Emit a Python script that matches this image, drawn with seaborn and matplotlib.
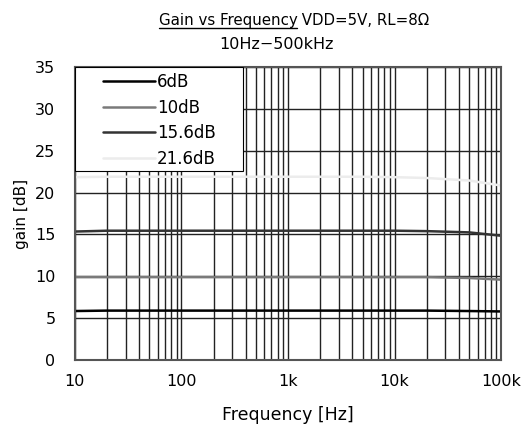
import numpy as np
import pandas as pd
import matplotlib
matplotlib.use("Agg")
import matplotlib.pyplot as plt
import seaborn as sns
from matplotlib.ticker import FixedLocator, NullFormatter
from matplotlib.patches import Rectangle

# data
freq = [10, 20, 50, 100, 200, 500, 1000, 2000, 5000, 10000, 20000, 50000, 100000]
gain_6 = [5.85, 5.9, 5.9, 5.9, 5.9, 5.9, 5.9, 5.9, 5.9, 5.9, 5.9, 5.85, 5.8]
gain_10 = [9.9, 9.9, 9.9, 9.9, 9.9, 9.9, 9.9, 9.9, 9.9, 9.9, 9.9, 9.8, 9.6]
gain_15 = [15.35, 15.45, 15.45, 15.45, 15.45, 15.45, 15.45, 15.45, 15.45, 15.45, 15.4, 15.25, 14.85]
gain_21 = [21.85, 21.9, 21.9, 21.9, 21.9, 21.9, 21.9, 21.9, 21.9, 21.85, 21.75, 21.45, 20.85]
labels = ["6dB", "10dB", "15.6dB", "21.6dB"]
colors = ["#000000", "#7a7a7a", "#333333", "#ececec"]

df = pd.DataFrame({"freq": freq * 4,
                   "gain": gain_6 + gain_10 + gain_15 + gain_21,
                   "setting": sum([[l] * len(freq) for l in labels], [])})

sns.set_style("white")
plt.rcParams["font.family"] = ["DejaVu Sans", "Noto Sans CJK JP"]
plt.rcParams["text.color"] = "black"
plt.rcParams["axes.labelcolor"] = "black"
plt.rcParams["xtick.color"] = "black"
plt.rcParams["ytick.color"] = "black"

fig = plt.figure(figsize=(5.27, 4.25), dpi=100)
ax = fig.add_axes([0.142, 0.153, 0.809, 0.689])

ax.set_xscale("log")
ax.set_xlim(10, 100000)
ax.set_ylim(0, 35)
ax.set_yticks(range(0, 36, 5))
ax.xaxis.set_major_locator(FixedLocator([10, 100, 1000, 10000, 100000]))
ax.xaxis.set_minor_locator(FixedLocator([m * 10 ** e for e in range(1, 5) for m in range(2, 10)]))
ax.xaxis.set_minor_formatter(NullFormatter())
ax.set_xticklabels(["10", "100", "1k", "10k", "100k"])
ax.grid(True, which="both", axis="x", color="#222222", lw=1)
ax.grid(True, which="major", axis="y", color="#222222", lw=1)
ax.tick_params(axis="x", which="both", length=0, labelsize=11.5, pad=10)
ax.tick_params(axis="y", which="both", length=0, labelsize=11.5, pad=14)

sns.lineplot(data=df, x="freq", y="gain", hue="setting", palette=colors,
             hue_order=labels, lw=1.8, ax=ax)

for s in ax.spines.values():
    s.set_color("#555555")
    s.set_linewidth(1.5)

ax.set_xlabel("Frequency [Hz]", fontsize=12.5, labelpad=12)
ax.set_ylabel("gain [dB]", fontsize=11, labelpad=4)

# legend box drawn by hand, legend itself without frame
ax.add_patch(Rectangle((0, 0.645), 0.394, 0.355, transform=ax.transAxes,
                       facecolor="white", edgecolor="black", lw=0.8, zorder=4))
leg = ax.legend(loc="upper left", bbox_to_anchor=(0.066, 0.98), fontsize=12,
                frameon=False, borderaxespad=0, borderpad=0,
                handlelength=3.1, handletextpad=0.15, labelspacing=0.45)
leg.set_zorder(5)

# title with underlined first part
t1 = fig.text(0.3, 0.941, "Gain vs Frequency", ha="left", va="baseline", fontsize=10.8)
t2 = fig.text(0.3, 0.941, " VDD=5V, RL=8Ω", ha="left", va="baseline", fontsize=10.8)
fig.canvas.draw()
r = fig.canvas.get_renderer()
inv = fig.transFigure.inverted()
w1 = t1.get_window_extent(r).transformed(inv).width
w2 = t2.get_window_extent(r).transformed(inv).width
x0 = 0.558 - (w1 + w2) / 2
t1.set_x(x0)
t2.set_x(x0 + w1)
fig.add_artist(plt.Line2D([x0, x0 + w1], [0.933, 0.933], color="black", lw=1,
                          transform=fig.transFigure))
fig.text(0.524, 0.885, "10Hz−500kHz", ha="center", va="baseline", fontsize=11.5)

fig.savefig("out.png", dpi=100)
